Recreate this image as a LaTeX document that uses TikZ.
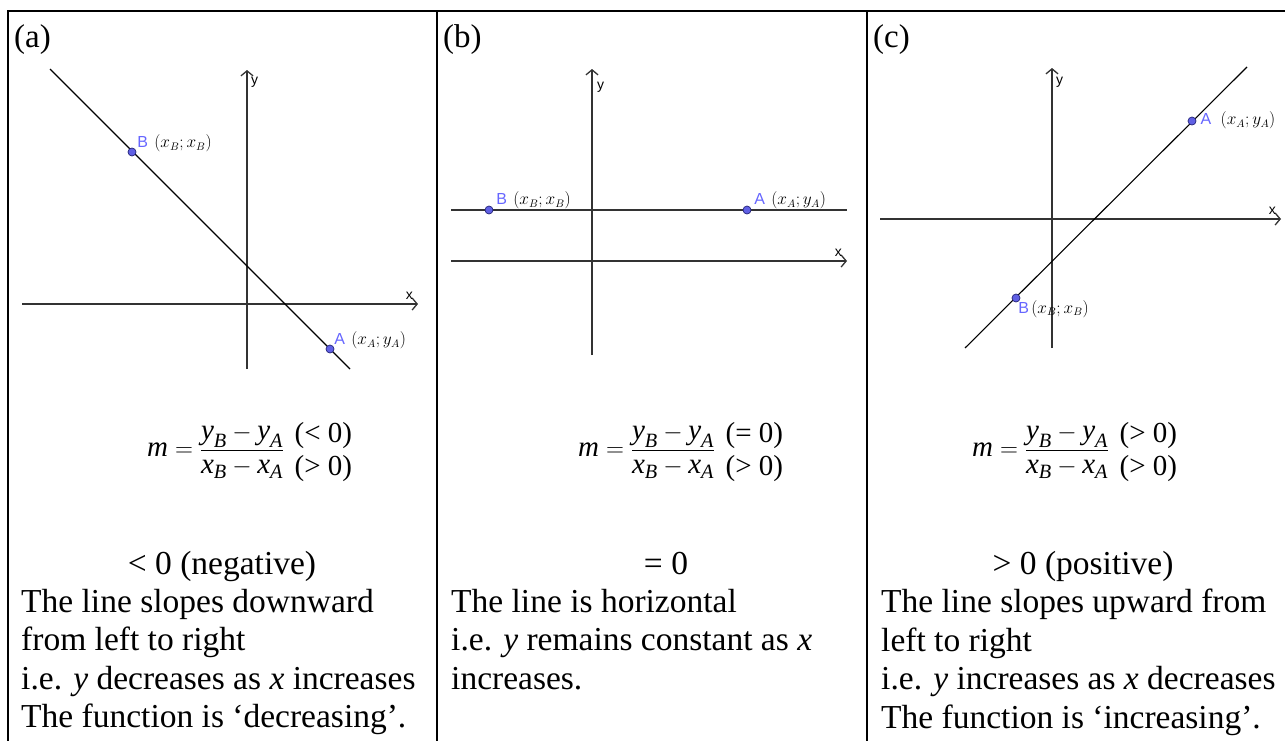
\documentclass[tikz,border=0pt]{standalone}
\usepackage{amsmath}
\usepackage{fontspec}
\setmainfont{Liberation Serif}
\newfontfamily\ggbfont{Liberation Sans}
\usetikzlibrary{arrows.meta,positioning}
\definecolor{GgbBlue}{RGB}{102,102,255}
\definecolor{PointFill}{RGB}{96,96,228}
\definecolor{PointEdge}{RGB}{35,35,120}
\newcommand{\iv}[1]{\textit{#1}}
\tikzset{
  frame/.style={line width=1.3pt,black},
  axis/.style={line width=1.6pt,black!80,
    -{Straight Barb[length=5pt,width=12pt,line width=1.3pt]}},
  slope/.style={line width=1.1pt,black},
  ggbpt/.style={circle,draw=PointEdge,fill=PointFill,inner sep=0pt,
    minimum size=8pt,line width=0.7pt},
  ptname/.style={font=\ggbfont\fontsize{16}{18}\selectfont,text=GgbBlue,
    inner sep=1pt},
  ptcoord/.style={font=\fontsize{16}{18}\selectfont,inner sep=1pt},
  axname/.style={font=\ggbfont\fontsize{14}{16}\selectfont,inner sep=1pt},
  tag/.style={font=\fontsize{33}{38}\selectfont,anchor=base west,inner sep=0pt},
  formula/.style={font=\fontsize{29}{33}\selectfont,inner sep=0pt,align=left},
  sign/.style={font=\fontsize{33.5}{38.5}\selectfont,anchor=base,inner sep=0pt},
  body/.style={font=\fontsize{33.5}{38.5}\selectfont,align=left,
    anchor=north west,inner sep=0pt}
}

\begin{document}
\begin{tikzpicture}[x=1pt,y=-1pt]
\useasboundingbox (0,0) rectangle (1285,740);

% table frame
\draw[frame] (8,745) -- (8,11) -- (1290,11);
\draw[frame] (437,11) -- (437,745);
\draw[frame] (867,11) -- (867,745);

% panel tags
\node[tag] (tagA) at (14,47) {(a)};
\node[tag] (tagB) at (443,47) {(b)};
\node[tag] (tagC) at (873,47) {(c)};

% (a) line going down
\draw[axis] (22,304) -- (418,304);
\draw[axis] (247,369) -- (247,70);
\node[axname,anchor=south east] (xa) at (414,301) {x};
\node[axname,anchor=west] (ya) at (250,82) {y};
\draw[slope] (50,69) -- (350,369);
\node[ggbpt] (Ba) at (132,152) {};
\node[ggbpt] (Aa) at (330,349) {};
\node[ptname,above right=0pt and 1pt of Ba] (Bna) {B};
\node[ptcoord,anchor=base west] (Bca) at ([xshift=4pt]Bna.base east) {$(x_B;x_B)$};
\node[ptname,above right=0pt and 0pt of Aa] (Ana) {A};
\node[ptcoord,anchor=base west] (Aca) at ([xshift=4pt]Ana.base east) {$(x_A;y_A)$};

% (b) horizontal line
\draw[axis] (451,261) -- (847,261);
\draw[axis] (592,355) -- (592,69);
\node[axname,anchor=south east] (xb) at (843,258) {x};
\node[axname,anchor=west] (yb) at (596,87) {y};
\draw[slope,line width=1.5pt,black!80] (451,210) -- (847,210);
\node[ggbpt] (Bb) at (489,210) {};
\node[ggbpt] (Ab) at (747,210) {};
\node[ptname,above right=1pt and 3pt of Bb] (Bnb) {B};
\node[ptcoord,anchor=base west] (Bcb) at ([xshift=4pt]Bnb.base east) {$(x_B;x_B)$};
\node[ptname,above right=1pt and 3pt of Ab] (Anb) {A};
\node[ptcoord,anchor=base west] (Acb) at ([xshift=4pt]Anb.base east) {$(x_A;y_A)$};

% (c) line going up
\draw[axis] (880,219) -- (1281,219);
\draw[axis] (1052,348) -- (1052,68);
\node[axname,anchor=south east] (xc) at (1277,216) {x};
\node[axname,anchor=west] (yc) at (1055,82) {y};
\draw[slope] (965,348) -- (1247,67);
\node[ggbpt] (Ac) at (1192,121) {};
\node[ggbpt] (Bc) at (1016,298) {};
\node[ptname,right=3pt of Ac,yshift=2pt] (Anc) {A};
\node[ptcoord,anchor=base west] (Acc) at ([xshift=7pt]Anc.base east) {$(x_A;y_A)$};
\node[ptname,below right=0pt and -2pt of Bc] (Bnc) {B};
\node[ptcoord,anchor=base west] (Bcc) at ([xshift=0pt]Bnc.base east) {$(x_B;x_B)$};

% gradient formulas
\node[formula,anchor=west] (fracA) at (147,452)
  {$\iv{m} = \dfrac{\iv{y}_{\iv{B}} - \iv{y}_{\iv{A}}}{\iv{x}_{\iv{B}} - \iv{x}_{\iv{A}}}$};
\node[formula,right=10pt of fracA] (signsA) {(< 0)\\(> 0)};
\node[formula,anchor=west] (fracB) at (578,452)
  {$\iv{m} = \dfrac{\iv{y}_{\iv{B}} - \iv{y}_{\iv{A}}}{\iv{x}_{\iv{B}} - \iv{x}_{\iv{A}}}$};
\node[formula,right=10pt of fracB] (signsB) {(= 0)\\(> 0)};
\node[formula,anchor=west] (fracC) at (972,452)
  {$\iv{m} = \dfrac{\iv{y}_{\iv{B}} - \iv{y}_{\iv{A}}}{\iv{x}_{\iv{B}} - \iv{x}_{\iv{A}}}$};
\node[formula,right=10pt of fracC] (signsC) {(> 0)\\(> 0)};

% what the sign means
\node[sign] (signA) at (222,574) {< 0 (negative)};
\node[body] (textA) at (21,589)
  {The line slopes downward\\from left to right\\
   i.e. \iv{y} decreases as \iv{x} increases\\The function is ‘decreasing’.};
\node[sign] (signB) at (666,574) {= 0};
\node[body] (textB) at (451,589)
  {The line is horizontal\\i.e. \iv{y} remains constant as \iv{x}\\increases.};
\node[sign] (signC) at (1083,574) {> 0 (positive)};
\node[body] (textC) at (881,589)
  {The line slopes upward from\\left to right\\
   i.e. \iv{y} increases as \iv{x} decreases\\The function is ‘increasing’.};

\end{tikzpicture}
\end{document}
